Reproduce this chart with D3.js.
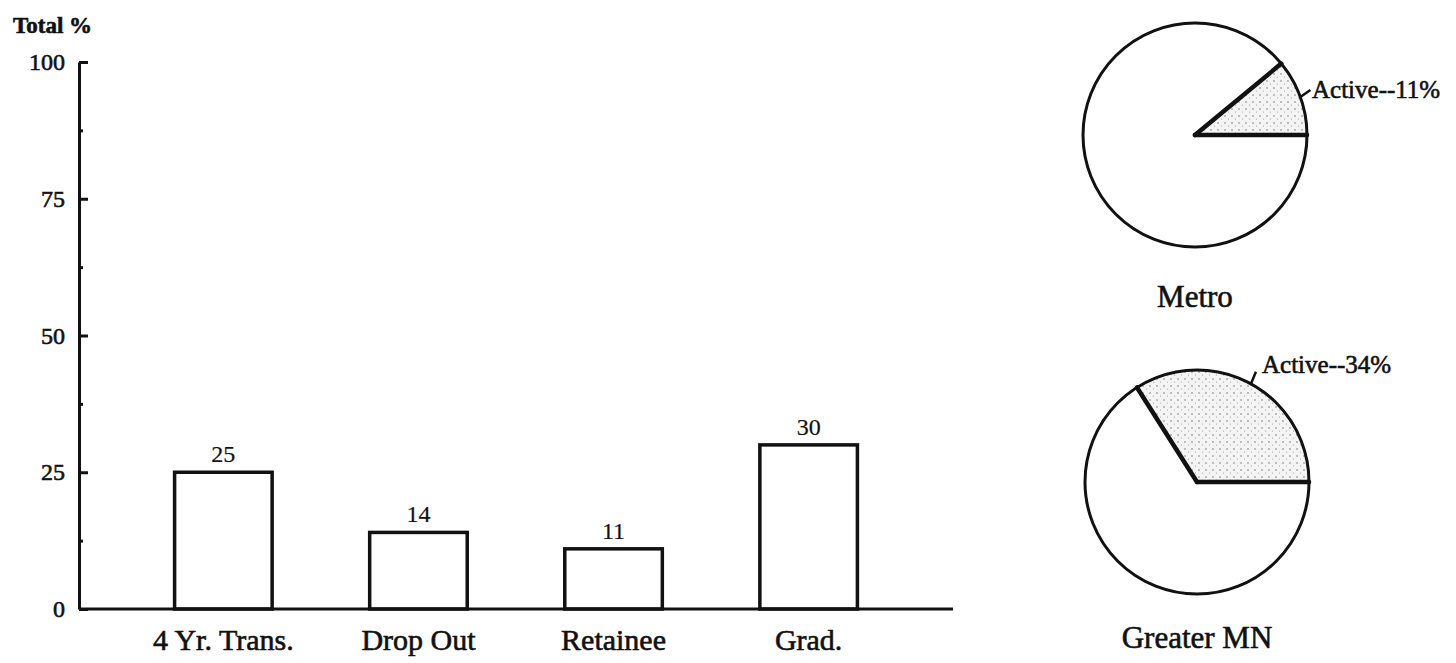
<!DOCTYPE html>
<html>
<head>
<meta charset="utf-8">
<script src="https://cdn.jsdelivr.net/npm/d3@7"></script>
</head>

<style>
body {
    margin: 0;
    background: #fff;
}

text {
    font-family: "Liberation Serif", "Times New Roman", serif;
    fill: #111;
    stroke: #111;
    stroke-width: 0.6px;
}

text.val {
    stroke-width: 0.2px;
}
</style>

<body>
    <svg id="canvas"></svg>
</body>

<script>

// data
const categories = ['4 Yr. Trans.', 'Drop Out', 'Retainee', 'Grad.'];
const totals = [25, 14, 11, 30];
const majorTicks = [0, 25, 50, 75, 100];
const minorTicks = [12.5, 37.5, 62.5, 87.5];

const regions = ['Metro', 'Greater MN'];
const activePct = [11, 34];

const W = 1456, H = 663;

const svg = d3.select('svg#canvas')
    .attr('width', W)
    .attr('height', H);

const defs = svg.append('defs');
const dots = defs.append('pattern')
    .attr('id', 'stipple')
    .attr('patternUnits', 'userSpaceOnUse')
    .attr('width', 7)
    .attr('height', 7);
dots.append('rect').attr('width', 7).attr('height', 7).attr('fill', '#f4f4f4');
dots.append('circle').attr('cx', 2).attr('cy', 2).attr('r', 0.8).attr('fill', '#777');
dots.append('circle').attr('cx', 5.5).attr('cy', 5).attr('r', 0.6).attr('fill', '#999');

// bar chart
const x = d3.scaleBand()
    .domain(categories)
    .range([79, 953])
    .paddingInner(0.5)
    .paddingOuter(0.49);

const y = d3.scaleLinear()
    .domain([0, 100])
    .range([609, 62]);

const barsG = svg.append('g');

// y axis, major ticks with labels
const yAxis = svg.append('g')
    .attr('transform', 'translate(79,0)')
    .call(d3.axisLeft(y)
        .tickValues(majorTicks)
        .tickSize(-9)
        .tickSizeOuter(0)
        .tickPadding(14)
        .tickFormat(d3.format('d')));

yAxis.select('.domain').attr('stroke', '#111').attr('stroke-width', 3);
yAxis.selectAll('.tick line').attr('stroke', '#111').attr('stroke-width', 3);
yAxis.selectAll('.tick text')
    .attr('font-size', 24)
    .attr('font-family', '"Liberation Serif", serif')
    .attr('fill', '#111');

// minor ticks
const yMinor = svg.append('g')
    .attr('transform', 'translate(79,0)')
    .call(d3.axisLeft(y)
        .tickValues(minorTicks)
        .tickSize(-4)
        .tickSizeOuter(0)
        .tickFormat(''));
yMinor.select('.domain').remove();
yMinor.selectAll('.tick line').attr('stroke', '#111').attr('stroke-width', 3);

// x axis line
svg.append('line')
    .attr('x1', 79).attr('x2', 953)
    .attr('y1', y(0)).attr('y2', y(0))
    .attr('stroke', '#111')
    .attr('stroke-width', 3);

barsG.selectAll('rect.bar')
    .data(totals)
    .enter().append('rect')
    .classed('bar', true)
    .attr('x', (d, i) => x(categories[i]))
    .attr('y', d => y(d))
    .attr('width', x.bandwidth())
    .attr('height', d => y(0) - y(d))
    .attr('fill', '#fff')
    .attr('stroke', '#111')
    .attr('stroke-width', 3.5);

barsG.selectAll('text.val')
    .data(totals)
    .enter().append('text')
    .classed('val', true)
    .attr('x', (d, i) => x(categories[i]) + x.bandwidth() / 2)
    .attr('y', d => y(d) - 10)
    .attr('text-anchor', 'middle')
    .attr('font-size', 24)
    .text(d => d);

svg.selectAll('text.cat')
    .data(categories)
    .enter().append('text')
    .classed('cat', true)
    .attr('x', d => x(d) + x.bandwidth() / 2)
    .attr('y', 650)
    .attr('text-anchor', 'middle')
    .attr('font-size', 30)
    .text(d => d);

svg.append('text')
    .attr('x', 13)
    .attr('y', 33)
    .attr('font-size', 23)
    .attr('font-weight', 'bold')
    .text('Total %');

// pies
const R = 112;
const pieCenters = [[1195, 135], [1197, 482]];
const titleY = [307, 648];
const labelPos = [[1312, 98], [1262, 373]];

regions.forEach((name, i) => {
    const p = activePct[i];
    const start = Math.PI / 2 - 2 * Math.PI * p / 100;
    const pie = d3.pie().sort(null)
        .startAngle(start)
        .endAngle(start + 2 * Math.PI);
    const arcs = pie([p, 100 - p]);
    const arc = d3.arc().innerRadius(0).outerRadius(R);

    const g = svg.append('g')
        .attr('transform', `translate(${pieCenters[i][0]},${pieCenters[i][1]})`);

    g.selectAll('path')
        .data(arcs)
        .enter().append('path')
        .attr('d', arc)
        .attr('fill', (d, j) => j === 0 ? 'url(#stipple)' : '#fff')
        .attr('stroke', 'none');

    g.append('circle')
        .attr('r', R)
        .attr('fill', 'none')
        .attr('stroke', '#111')
        .attr('stroke-width', 3);

    [arcs[0].startAngle, arcs[0].endAngle].forEach(a => {
        const pt = d3.pointRadial(a, R);
        g.append('line')
            .attr('x1', 0).attr('y1', 0)
            .attr('x2', pt[0]).attr('y2', pt[1])
            .attr('stroke', '#111')
            .attr('stroke-width', 4.5)
            .attr('stroke-linecap', 'round');
    });

    // leader from the rim up to the label
    const mid = (arcs[0].startAngle + arcs[0].endAngle) / 2;
    const rim = d3.pointRadial(mid, R);
    g.append('line')
        .attr('x1', rim[0]).attr('y1', rim[1])
        .attr('x2', rim[0] + (i === 0 ? 10 : 5))
        .attr('y2', rim[1] - (i === 0 ? 7 : 12))
        .attr('stroke', '#111')
        .attr('stroke-width', 2.5);

    svg.append('text')
        .attr('x', labelPos[i][0])
        .attr('y', labelPos[i][1])
        .attr('font-size', 25)
        .text('Active--' + p + '%');

    svg.append('text')
        .attr('x', pieCenters[i][0])
        .attr('y', titleY[i])
        .attr('text-anchor', 'middle')
        .attr('font-size', 31)
        .text(name);
});

</script>
</html>
